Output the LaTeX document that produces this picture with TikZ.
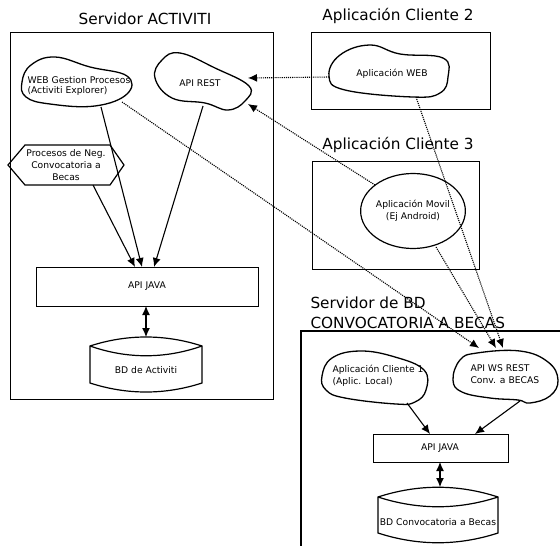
\documentclass[tikz,border=0pt]{standalone}
\usepackage{fontspec}
\setmainfont{DejaVu Sans}
\usetikzlibrary{arrows.meta,shapes.geometric}
\begin{document}
\begin{tikzpicture}[x=1pt,y=-1pt,line width=1pt,
  txt/.style={font=\fontsize{9.2}{12}\selectfont, inner sep=0pt, align=center},
  ttl/.style={font=\fontsize{15.3}{20}\selectfont, inner sep=0pt},
  blob/.style={line width=1.3pt},
  frame/.style={draw, line width=1.2pt},
  boxnode/.style={frame, inner sep=0pt, anchor=north west},
  tip/.style={-{Latex[length=9pt,width=8pt]}},
  arr/.style={tip, line width=1.1pt},
  darr/.style={{Latex[length=9pt,width=8pt]}-{Latex[length=9pt,width=8pt]}, line width=1.1pt},
  dots/.style={tip, line width=1.1pt, dash pattern=on 1.1pt off 1pt}]
\useasboundingbox (0,0) rectangle (560,546);

% ---------- Servidor ACTIVITI ----------
\node[ttl] (tA) at (145,19) {Servidor ACTIVITI};
\node[boxnode, minimum width=263pt, minimum height=367pt] (srvA) at (10,32) {};

\draw[blob] plot[smooth cycle, tension=0.7] coordinates
  {(22,82) (31,65) (55,57) (90,67) (127,76) (127,94) (95,106) (50,104) (26,97)};
\node[txt, align=left, anchor=west, font=\fontsize{9.2}{10.5}\selectfont] (webg) at (27,86)
  {WEB Gestion Procesos\\(Activiti Explorer)};

\draw[blob] plot[smooth cycle, tension=0.7] coordinates
  {(155,78) (162,60) (180,53) (215,68) (249,86) (245,101) (228,110) (205,103) (172,98)};
\node[txt] (rest) at (200,83) {API REST};

\draw[frame] (8,165) -- (25,145) -- (110,145) -- (124,165) -- (110,185) -- (25,185) -- cycle;
\node[txt] (hexa) at (66,165) {Procesos de Neg.\\Convocatoria a\\Becas};

\node[boxnode, minimum width=222pt, minimum height=39pt] (jA) at (36,267) {};
\node[txt] (jAt) at (147,286) {API JAVA};

\draw[frame] (90,346) .. controls (127,334) and (165,334) .. (202,346) -- (202,383)
  .. controls (165,395) and (127,395) .. (90,383) -- cycle;
\draw[frame] (90,346) .. controls (127,359) and (165,359) .. (202,346);
\node[txt] (bdA) at (146,370) {BD de Activiti};

\coordinate (webg-s) at (101,107);
\coordinate (hexa-s) at (93,185);
\coordinate (rest-s) at (203,106);
\coordinate (jA-1) at (135,267);
\coordinate (jA-2) at (142,267);
\coordinate (jA-3) at (154,267);
\coordinate (jA-b) at (146,306);
\coordinate (bdA-t) at (146,337);
\draw[arr] (webg-s) -- (jA-2);
\draw[arr] (hexa-s) -- (jA-1);
\draw[arr] (rest-s) -- (jA-3);
\draw[darr] (jA-b) -- (bdA-t);

% ---------- Aplicacion Cliente 2 ----------
\node[ttl] (t2) at (398,16) {Aplicación Cliente 2};
\node[boxnode, minimum width=179pt, minimum height=77pt] (cl2) at (311,32) {};
\draw[blob] plot[smooth cycle, tension=0.7] coordinates
  {(329,76) (340,55) (370,45) (400,54) (443,58) (448,77) (440,93) (413,97) (345,90)};
\node[txt] (aweb) at (392,74) {Aplicación WEB};

% ---------- Aplicacion Cliente 3 ----------
\node[ttl] (t3) at (398,145) {Aplicación Cliente 3};
\node[boxnode, minimum width=167pt, minimum height=108pt] (cl3) at (312,161) {};
\node[draw, ellipse, line width=1.2pt, minimum width=97pt, minimum height=75pt, txt] (movil)
  at (413,211) {Aplicación Movil\\(Ej Android)};

% ---------- Servidor de BD ----------
\node[ttl, align=left, anchor=west] (tD) at (310,313) {Servidor de BD\\CONVOCATORIA A BECAS};
\draw[frame] (562,331) -- (301,331) -- (301,548);

\draw[blob] plot[smooth cycle, tension=0.7] coordinates
  {(322,376) (332,358) (360,351) (395,357) (424,370) (426,390) (415,402) (396,404) (345,398) (326,390)};
\node[txt, align=left, anchor=west] (cl1) at (332,376) {Aplicación Cliente 1\\(Aplic. Local)};

\draw[blob] plot[smooth cycle, tension=0.7] coordinates
  {(453,380) (460,360) (477,353) (520,351) (548,362) (558,380) (550,396) (530,403) (518,400) (490,398) (462,392)};
\node[txt, align=left, anchor=west] (ws) at (470,374) {API WS REST\\Conv. a BECAS};

\node[boxnode, minimum width=135pt, minimum height=28pt] (jD) at (373,434) {};
\node[txt] (jDt) at (440,448) {API JAVA};

\draw[frame] (378,497) .. controls (418,484) and (458,484) .. (498,497) -- (498,533)
  .. controls (458,546) and (418,546) .. (378,533) -- cycle;
\draw[frame] (378,497) .. controls (418,510) and (458,510) .. (498,497);
\node[txt] (bdD) at (438,522) {BD Convocatoria a Becas};

\coordinate (cl1-s) at (407,403);
\coordinate (ws-s) at (520,401);
\coordinate (jD-1) at (430,434);
\coordinate (jD-2) at (475,434);
\coordinate (jD-b) at (440,462);
\coordinate (bdD-t) at (440,487);
\draw[arr] (cl1-s) -- (jD-1);
\draw[arr] (ws-s) -- (jD-2);
\draw[darr] (jD-b) -- (bdD-t);

% ---------- dotted connectors ----------
\coordinate (aweb-w) at (329,77);
\coordinate (aweb-s) at (416,97);
\coordinate (rest-e) at (248,78);
\coordinate (rest-se) at (248,104);
\coordinate (movil-nw) at (375,185);
\coordinate (movil-s) at (436,247);
\coordinate (webg-e) at (122,102);
\coordinate (ws-1) at (479,348);
\coordinate (ws-2) at (496,348);
\coordinate (ws-3) at (503,348);
\draw[dots] (aweb-w) -- (rest-e);
\draw[dots] (movil-nw) -- (rest-se);
\draw[dots] (webg-e) -- (ws-1);
\draw[dots] (movil-s) -- (ws-2);
\draw[dots] (aweb-s) -- (ws-3);
\end{tikzpicture}
\end{document}
